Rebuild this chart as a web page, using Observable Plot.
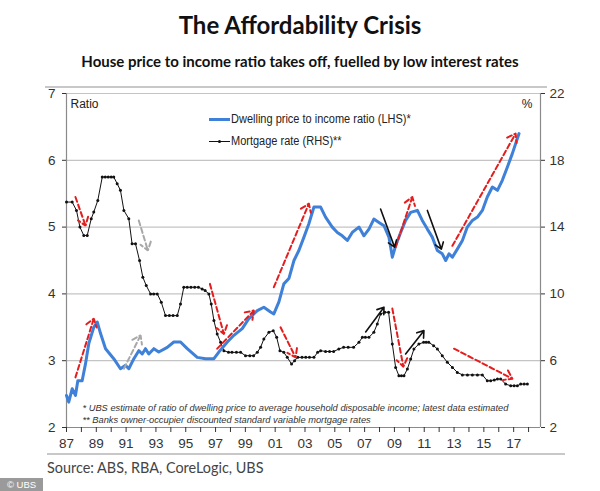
<!DOCTYPE html>
<html>
<head>
<meta charset="utf-8">
<script src="https://cdn.jsdelivr.net/npm/d3@7"></script>
<script src="https://cdn.jsdelivr.net/npm/@observablehq/plot@0.6"></script>
<style>
  html, body { margin: 0; padding: 0; background: #fff; }
  #wrap { position: relative; width: 600px; height: 491px; overflow: hidden; font-family: "Liberation Sans", Arial, sans-serif; }
  .abs { position: absolute; white-space: nowrap; }
  #title { left: 0; width: 600px; top: 10px; text-align: center; font-family: Lato, sans-serif; font-weight: 700; font-size: 24px; color: #111; }
  #subtitle { left: 0; width: 600px; top: 52px; text-align: center; font-family: Lato, sans-serif; font-weight: 700; font-size: 15px; color: #111; }
  #chart { position: absolute; left: 0; top: 80px; }
  .hr { position: absolute; height: 2px; background: #c8c8c8; }
  #source { left: 47px; top: 458px; font-family: Lato, sans-serif; font-size: 15.5px; color: #444; transform: scaleX(0.93); transform-origin: left center; }
  #ubs { left: 0; top: 478px; width: 43px; height: 13px; background: #9a9a9a; color: #fff; font-size: 9.5px; line-height: 13px; text-align: center; }
  .leg { font-size: 12.5px; color: #222; transform: scaleX(0.88); transform-origin: left center; }
</style>
</head>
<body>
<div id="wrap">
  <div id="title" class="abs">The Affordability Crisis</div>
  <div id="subtitle" class="abs">House price to income ratio takes off, fuelled by low interest rates</div>
  <div class="hr" style="left:45px; width:502px; top:86px;"></div>
  <div id="chart"></div>
  <div class="hr" style="left:47px; width:518px; top:453px;"></div>
  <div id="source" class="abs">Source: ABS, RBA, CoreLogic, UBS</div>
  <div id="ubs" class="abs">© UBS</div>
</div>
<script>
// ---- Data ----
const dwellingYear = [1987.0,1987.15,1987.38,1987.6,1987.76,1988.05,1988.28,1988.5,1988.83,1989.06,1989.28,1989.62,1990.17,1990.62,1990.96,1991.18,1991.52,1991.85,1992.08,1992.3,1992.52,1992.86,1993.19,1993.76,1994.2,1994.65,1995.1,1995.77,1996.33,1996.89,1997.22,1997.79,1998.23,1998.79,1999.23,1999.8,2000.24,2000.69,2000.91,2001.25,2001.58,2001.92,2002.26,2002.59,2002.93,2003.26,2003.6,2004.05,2004.38,2004.83,2005.17,2005.5,2005.84,2006.17,2006.62,2006.95,2007.29,2007.62,2007.96,2008.3,2008.63,2008.86,2009.08,2009.42,2009.75,2010.09,2010.54,2010.87,2011.21,2011.54,2011.88,2012.21,2012.44,2012.66,2012.89,2013.22,2013.56,2013.89,2014.23,2014.57,2014.9,2015.23,2015.57,2015.91,2016.24,2016.58,2016.91,2017.36];
const dwellingRatio = [2.48,2.38,2.58,2.48,2.70,2.70,2.96,3.26,3.50,3.58,3.41,3.18,3.03,2.88,2.93,2.88,3.03,3.15,3.10,3.18,3.10,3.18,3.13,3.20,3.28,3.28,3.18,3.05,3.03,3.03,3.13,3.28,3.38,3.48,3.63,3.75,3.80,3.73,3.70,3.88,4.15,4.23,4.50,4.65,4.85,5.05,5.30,5.30,5.15,5.00,4.92,4.87,4.80,4.92,5.00,4.87,4.97,5.12,5.07,5.02,4.85,4.55,4.72,4.92,5.10,5.22,5.25,5.10,4.97,4.85,4.65,4.60,4.50,4.60,4.55,4.67,4.80,5.00,5.10,5.15,5.25,5.45,5.60,5.55,5.70,5.90,6.10,6.40];

const mortgageYear = [1987.0,1987.38,1987.67,1987.9,1988.16,1988.39,1988.66,1988.83,1989.1,1989.4,1989.6,1989.8,1990.0,1990.17,1990.4,1990.62,1990.85,1991.18,1991.4,1991.63,1991.9,1992.12,1992.35,1992.64,1992.85,1993.09,1993.36,1993.64,1993.9,1994.15,1994.43,1994.65,1994.87,1995.1,1995.35,1995.6,1995.85,1996.1,1996.3,1996.55,1996.71,1996.89,1997.11,1997.34,1997.56,1997.87,1998.1,1998.4,1998.68,1999.01,1999.3,1999.55,1999.8,2000.02,2000.24,2000.58,2000.87,2001.1,2001.32,2001.58,2001.81,2002.1,2002.3,2002.52,2002.8,2003.05,2003.3,2003.6,2003.85,2004.05,2004.38,2004.65,2004.92,2005.27,2005.59,2005.9,2006.26,2006.62,2006.85,2007.05,2007.29,2007.62,2007.85,2008.07,2008.35,2008.61,2008.86,2009.08,2009.3,2009.47,2009.64,2009.87,2010.09,2010.31,2010.64,2010.96,2011.13,2011.3,2011.63,2011.88,2012.21,2012.55,2012.89,2013.22,2013.56,2013.9,2014.23,2014.57,2014.9,2015.23,2015.46,2015.7,2015.91,2016.13,2016.46,2016.8,2017.03,2017.25,2017.47,2017.7,2017.92];
const mortgageRate = [15.5,15.5,15.0,14.0,13.5,13.5,14.5,14.9,15.6,17.0,17.0,17.0,17.0,17.0,16.6,16.2,15.0,14.5,13.0,13.0,12.0,11.0,10.5,10.0,10.0,10.0,9.5,8.7,8.7,8.7,8.7,9.4,10.4,10.4,10.4,10.4,10.4,10.3,10.2,10.0,9.4,8.4,7.6,7.1,6.6,6.5,6.5,6.5,6.5,6.3,6.3,6.3,6.5,6.8,7.3,7.7,7.8,7.4,6.6,6.5,6.2,5.8,6.0,6.2,6.2,6.2,6.2,6.2,6.5,6.6,6.55,6.55,6.55,6.7,6.8,6.8,6.8,7.1,7.4,7.4,7.4,7.7,8.2,8.8,8.9,8.9,7.0,5.6,5.1,5.1,5.1,5.5,6.1,6.7,7.0,7.1,7.1,7.1,6.9,6.7,6.3,5.9,5.6,5.3,5.15,5.15,5.15,5.15,5.15,4.8,4.8,4.85,4.9,4.9,4.6,4.5,4.5,4.5,4.6,4.6,4.6];

// Annotation arrows (year, LHS ratio units), colour kind
const arrowX1 = [1987.6,1987.6,1991.85,1990.85,1996.62,1997.11,2000.91,2001.36,2008.07,2009.08,2011.21,2012.89,2007.07,2008.86,2009.75,2013.0];
const arrowY1 = [5.45,2.75,5.10,2.88,4.15,3.18,4.10,3.50,5.27,4.70,5.25,4.72,3.43,3.78,3.10,3.18];
const arrowX2 = [1988.28,1988.83,1992.46,1991.97,1997.56,1999.57,2003.26,2002.37,2009.01,2010.2,2012.15,2017.13,2008.3,2009.6,2010.98,2016.91];
const arrowY2 = [5.02,3.63,4.65,3.38,3.40,3.75,5.35,3.05,4.70,5.45,4.67,6.40,3.80,2.91,3.45,2.73];
const arrowKind = ["red","red","grey","grey","red","red","red","red","black","red","black","red","black","red","black","red"];

const leftTicks = [2,3,4,5,6,7];
const leftTickLabels = ["2","3","4","5","6","7"];
const rightTickLabels = ["2","6","10","14","18","22"];
const yearTicks = d3.range(1987, 2019);
const xDomain = [1987, 2018.8];

const legendLabels = ["Dwelling price to income ratio (LHS)*", "Mortgage rate (RHS)**"];
const footnotes = ["* UBS estimate of ratio of dwelling price to average household disposable income; latest data estimated",
                   "** Banks owner-occupier discounted standard variable mortgage rates"];

// ---- Build tables ----
const dwelling = dwellingYear.map((y, i) => ({year: y, ratio: dwellingRatio[i]}));
const toLeft = m => (m + 6) / 4; // RHS % -> LHS ratio units
const mortgage = mortgageYear.map((y, i) => ({year: y, rate: mortgageRate[i], pos: toLeft(mortgageRate[i])}));
const arrows = arrowX1.map((x, i) => ({x1: x, y1: arrowY1[i], x2: arrowX2[i], y2: arrowY2[i], kind: arrowKind[i]}));
const arrowColor = {red: "#e41e1e", grey: "#a8a8a8", black: "#111"};

const yr2 = d => (d % 2 === 1) ? String(d % 100).padStart(2, "0") : "";

const chart = Plot.plot({
  width: 600,
  height: 375,
  marginTop: 13,
  marginBottom: 28,
  marginLeft: 66,
  marginRight: 60,
  x: {domain: xDomain},
  y: {domain: [2, 7]},
  style: {fontFamily: "'Liberation Sans', Arial, sans-serif", fontSize: "13px", color: "#333", background: "transparent", overflow: "visible"},
  marks: [
    Plot.gridY([3,4,5,6,7], {stroke: "#c4c4c4", strokeOpacity: 1, strokeWidth: 1.2}),
    Plot.ruleX([xDomain[0], xDomain[1]], {stroke: "#8a8a8a", strokeWidth: 1.2}),
    Plot.ruleY([2], {stroke: "#8a8a8a", strokeWidth: 1.2}),
    Plot.axisY({anchor: "left", ticks: leftTicks, tickFormat: d => leftTickLabels[leftTicks.indexOf(d)], tickSize: 4, tickPadding: 7, label: null, fontSize: 13.5}),
    Plot.axisY({anchor: "right", ticks: leftTicks, tickFormat: d => rightTickLabels[leftTicks.indexOf(d)], tickSize: 4, tickPadding: 5, label: null, fontSize: 13.5}),
    Plot.axisX({ticks: yearTicks, tickFormat: yr2, tickSize: 5, tickPadding: 6, label: null, fontSize: 13.5}),
    Plot.text(["Ratio"], {frameAnchor: "top-left", dx: 4, dy: 6, fontSize: 12, fill: "#222"}),
    Plot.text(["%"], {frameAnchor: "top-right", dx: -8, dy: 6, fontSize: 12, fill: "#222"}),
    Plot.text([footnotes[0]], {frameAnchor: "bottom-left", dx: 16, dy: -17, fontSize: 9.3, fontStyle: "italic", fill: "#333"}),
    Plot.text([footnotes[1]], {frameAnchor: "bottom-left", dx: 16, dy: -5, fontSize: 9.3, fontStyle: "italic", fill: "#333"}),
    Plot.line(mortgage, {x: "year", y: "pos", stroke: "#111", strokeWidth: 1}),
    Plot.dot(mortgage, {x: "year", y: "pos", r: 1.5, fill: "#111"}),
    Plot.line(dwelling, {x: "year", y: "ratio", stroke: "#3f80d8", strokeWidth: 3, strokeLinejoin: "round"}),
    Plot.arrow(arrows.filter(d => d.kind !== "black"), {x1: "x1", y1: "y1", x2: "x2", y2: "y2", stroke: d => arrowColor[d.kind], strokeWidth: 2, strokeDasharray: "5,3", headLength: 7, headAngle: 70}),
    Plot.arrow(arrows.filter(d => d.kind === "black"), {x1: "x1", y1: "y1", x2: "x2", y2: "y2", stroke: "#111", strokeWidth: 1.6, headLength: 7, headAngle: 70})
  ]
});
document.getElementById("chart").appendChild(chart);

// legend (HTML overlay)
const wrap = document.getElementById("wrap");
const legendTop = [112, 134];
const legendStroke = ["#3f80d8", "#111"];
const legendWidth = [3, 1];
legendLabels.forEach((lab, i) => {
  const sw = document.createElement("div");
  sw.className = "abs";
  sw.style.left = "209px"; sw.style.width = "21px";
  sw.style.top = (legendTop[i] + 7 - legendWidth[i] / 2) + "px";
  sw.style.height = legendWidth[i] + "px";
  sw.style.background = legendStroke[i];
  wrap.appendChild(sw);
  if (i === 1) {
    const dot = document.createElement("div");
    dot.className = "abs";
    dot.style.left = "218px"; dot.style.top = (legendTop[i] + 5.5) + "px";
    dot.style.width = "3px"; dot.style.height = "3px"; dot.style.borderRadius = "50%";
    dot.style.background = "#111";
    wrap.appendChild(dot);
  }
  const t = document.createElement("div");
  t.className = "abs leg";
  t.style.left = "231px"; t.style.top = legendTop[i] + "px";
  t.textContent = lab;
  wrap.appendChild(t);
});
</script>
</body>
</html>
